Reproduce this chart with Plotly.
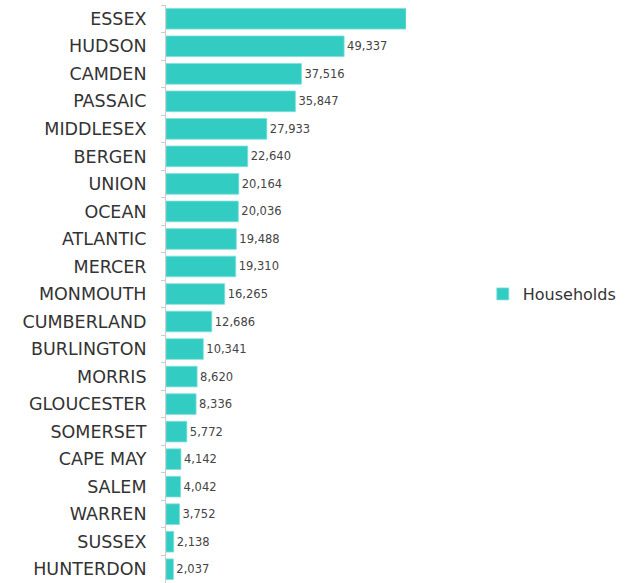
import plotly.graph_objects as go

counties = ["ESSEX", "HUDSON", "CAMDEN", "PASSAIC", "MIDDLESEX", "BERGEN", "UNION",
            "OCEAN", "ATLANTIC", "MERCER", "MONMOUTH", "CUMBERLAND", "BURLINGTON",
            "MORRIS", "GLOUCESTER", "SOMERSET", "CAPE MAY", "SALEM", "WARREN",
            "SUSSEX", "HUNTERDON"]
households = [66480, 49337, 37516, 35847, 27933, 22640, 20164, 20036, 19488, 19310,
              16265, 12686, 10341, 8620, 8336, 5772, 4142, 4042, 3752, 2138, 2037]

fig = go.Figure()
fig.add_trace(go.Bar(
    y=counties, x=households, orientation="h", name="Households",
    marker=dict(color="#33CCC3", line=dict(color="#7fe0da", width=0.8)),
    texttemplate="%{x:,}", textposition="outside", cliponaxis=True,
    textfont=dict(family="DejaVu Sans", size=11.5, color="#444444"),
    hoverinfo="x+y",
))
fig.update_layout(
    width=638, height=583,
    margin=dict(l=166, r=232, t=5, b=0, autoexpand=False),
    paper_bgcolor="white", plot_bgcolor="white",
    bargap=0.25,
    showlegend=True,
    legend=dict(x=1.32, y=0.5, xanchor="left", yanchor="middle",
                font=dict(family="DejaVu Sans", size=16, color="#333333")),
    xaxis=dict(range=[0, max(households)], visible=False, fixedrange=True),
    yaxis=dict(autorange="reversed", showline=True, linecolor="#cccccc", linewidth=1,
               ticks="outside", tickson="boundaries", ticklen=4, tickcolor="#cccccc",
               ticklabelstandoff=15,
               tickfont=dict(family="DejaVu Sans", size=17.5, color="#333333"),
               showgrid=False, zeroline=False),
)
fig.write_html("out.html", config={"displayModeBar": False},
               post_script="document.body.style.margin='0';document.body.style.overflow='hidden';")
